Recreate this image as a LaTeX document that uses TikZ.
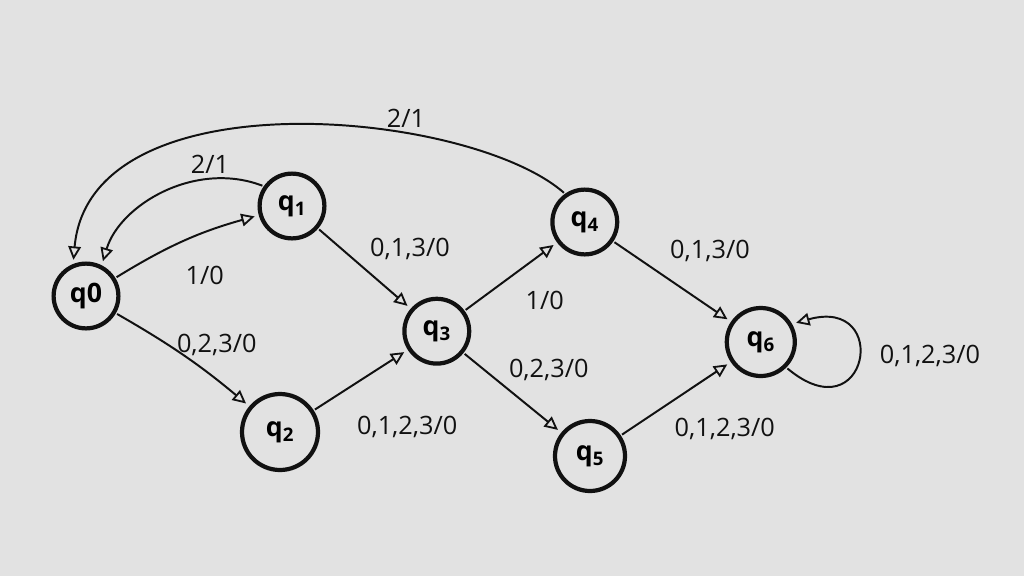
\documentclass[tikz,border=0pt]{standalone}
\usepackage{fontspec}
\setmainfont{Open Sans}
\usetikzlibrary{arrows.meta}
\definecolor{paper}{RGB}{226,226,226}
\definecolor{ink}{RGB}{17,17,17}
\begin{document}
\begin{tikzpicture}[x=1cm,y=1cm,
  state/.style={circle,draw=ink,line width=3pt,minimum size=1.62cm,inner sep=0pt,
    font=\fontsize{19}{21}\selectfont\bfseries},
  trans/.style={draw=ink,line width=1.4pt,
    -{Triangle[open,length=9.5pt,width=9pt,line width=1.3pt]},
    shorten >=3pt,shorten <=1pt},
  lab/.style={font=\fontsize{18}{20}\selectfont,text=ink,inner sep=1pt}]
  % sheet
  \fill[paper] (0,0) rectangle (25.6,-14.4);
  \useasboundingbox (0,0) rectangle (25.6,-14.4);

  % states
  \node[state] (q0) at (2.15,-7.40) {q0};
  \node[state] (q1) at (7.30,-5.15) {q\textsubscript{1}};
  \node[state,minimum size=1.9cm] (q2) at (7.00,-10.80) {q\textsubscript{2}};
  \node[state] (q3) at (10.92,-8.28) {q\textsubscript{3}};
  \node[state] (q4) at (14.62,-5.55) {q\textsubscript{4}};
  \node[state,minimum size=1.75cm] (q5) at (14.75,-11.40) {q\textsubscript{5}};
  \node[state,minimum size=1.7cm] (q6) at (19.02,-8.55) {q\textsubscript{6}};

  % transitions
  \draw[trans] (q0) to[bend left=8] (q1);
  \draw[trans] (q0) to[bend left=5] (q2);
  \draw[trans] (q1.145) .. controls (4.88,-4.00) and (3.00,-5.12) .. (q0.63);
  \draw[trans] (q4.125) .. controls (11.75,-2.75) and (2.25,-1.85) .. (q0.112);
  \draw[trans] (q1) -- (q3);
  \draw[trans] (q2) -- (q3);
  \draw[trans] (q3) -- (q4);
  \draw[trans] (q3) -- (q5);
  \draw[trans] (q4) -- (q6);
  \draw[trans] (q5) -- (q6);
  \draw[trans] (q6.-45) .. controls (21.70,-10.90) and (22.30,-7.40) .. (q6.30);

  % transition labels
  \node[lab] (l40) at (10.15,-2.95) {2/1};
  \node[lab] (l10) at (5.25,-4.12) {2/1};
  \node[lab] (l01) at (5.12,-6.88) {1/0};
  \node[lab] (l02) at (5.42,-8.62) {0,2,3/0};
  \node[lab] (l13) at (10.25,-6.22) {0,1,3/0};
  \node[lab] (l34) at (13.62,-7.50) {1/0};
  \node[lab] (l35) at (13.72,-9.25) {0,2,3/0};
  \node[lab] (l23) at (10.18,-10.68) {0,1,2,3/0};
  \node[lab] (l46) at (17.75,-6.28) {0,1,3/0};
  \node[lab] (l56) at (18.12,-10.72) {0,1,2,3/0};
  \node[lab] (l66) at (23.25,-8.90) {0,1,2,3/0};
\end{tikzpicture}
\end{document}
